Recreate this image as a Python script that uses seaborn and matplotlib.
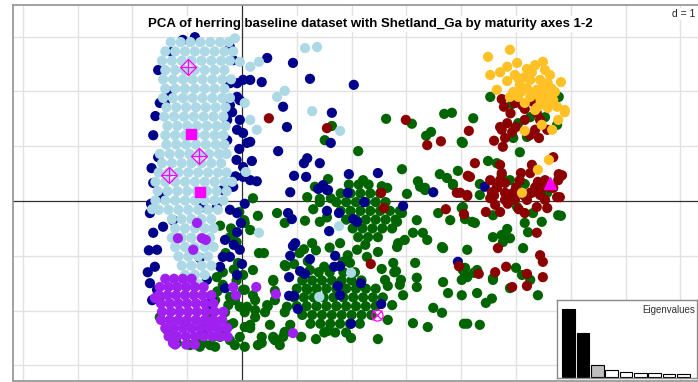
import matplotlib
matplotlib.use("Agg")
import matplotlib.pyplot as plt
import pandas as pd
import seaborn as sns

# ---------------- data (PCA scores, axes 1-2, grid d = 1) ----------------
# green class: scattered individuals
green_x = [2.63,3.10,3.69,3.83,3.36,3.45,4.01,1.64,1.51,2.12,2.92,3.94,3.61,3.21,3.74,3.34,3.01,3.85,1.57,2.21,2.55,2.65,1.33,1.19,1.42,0.20,
           0.29,0.04,0.15,0.78,1.15,1.28,1.13,1.42,1.42,1.79,2.10,1.97,0.31,0.40,0.20,0.57,0.80,0.60,0.05,0.20,0.47,0.09,0.24,0.05,0.57,2.28,2.48,2.55,2.76,2.81,2.88,2.66,2.94,2.74,2.66,3.12,3.39,2.61,2.90,3.19,3.16,3.19,3.49,3.65,3.67,3.76,4.01,4.05,3.65,3.19,2.92,2.83,3.12,3.30,3.38,2.85,2.97,2.83,3.58,3.80,3.25,3.34,3.85,4.03,4.11,4.03,4.01,1.24,1.19,1.84,1.93,2.06,
           2.78,4.29,4.45,4.11,4.34,2.48,1.99,0.60,0.78,1.08,1.35,1.57,4.07,4.23,4.58,
           4.34,4.01,4.07,4.20,4.25,4.58,5.02,5.16,5.22,5.47,5.77,5.31,4.84,4.58,4.74,4.89,4.76,5.13,3.67,4.07,4.11,4.29,4.58,5.00,5.11,5.26,4.89,5.40,4.56,
           4.53,4.22,4.03,4.93,5.78,5.26,5.53,5.04,5.75,4.95,5.20,5.07,4.49,4.65,4.74,4.89,5.16,4.34,5.80,5.57,5.82,
           0.05,-0.22,-0.07,0.02,0.02,0.78,0.57,0.24,0.46,0.82,0.15,0.05,0.36,0.57,0.78,-0.35,-0.22,-0.53,-0.71,-0.22,-0.04,-0.16,-0.35,-0.46,-1.50,-1.37,-1.19,-0.77,-0.49,-1.50,0.64,
           -0.49,-0.13,0.24,0.60,-0.58,-0.31,0.05,0.42,0.78,-1.04,-0.68,-0.22,0.15,0.51,0.88,-1.22,-0.77,-0.40,-0.04,0.36,0.75,-0.95,-0.58,-0.13,0.29,0.69,
           -0.40,-0.20,-0.10,-0.30,-0.15,-0.35,-0.10,-0.45,-0.25,-0.05,1.05,1.35,1.50,1.20,0.95,1.60,1.30,1.55,1.62]
green_y = [1.50,1.41,1.59,1.61,1.19,1.26,1.08,1.37,1.11,0.91,0.58,0.55,0.49,0.36,0.42,0.24,0.13,0.31,0.40,0.38,0.27,0.24,0.26,0.07,0.04,0.05,
           -0.27,-0.35,-0.53,-0.40,-0.36,-0.77,-0.88,-0.38,-0.02,-0.77,-0.89,-1.13,-0.95,-0.95,-1.26,-1.46,-1.19,-1.64,-1.62,-1.72,-1.92,-1.93,-2.12,-2.30,-2.48,-1.02,-0.93,-1.24,-1.13,-1.28,-1.53,-1.55,-1.72,-1.90,-2.17,-2.23,-2.30,-1.44,-1.44,-1.57,-1.13,-1.40,-1.95,-2.04,-1.48,-1.68,-1.72,-2.24,-0.84,-0.35,-0.22,-0.38,-0.58,-0.58,-0.71,-0.77,-0.71,-0.84,-0.22,-0.35,0.26,0.20,0.29,-0.11,-0.89,-1.26,-1.44,-1.26,-1.62,-1.11,-0.99,-1.30,
           -1.30,-1.68,-1.86,-2.24,-2.26,-2.52,-2.50,-2.54,-2.39,-2.48,-2.52,-2.37,-1.35,-1.31,-1.41,
           0.11,-0.13,-0.33,-0.38,-0.40,-0.26,-0.11,-0.40,-0.57,-0.38,-0.26,-0.22,-0.51,-0.66,-0.62,-0.68,-0.75,-0.86,-0.86,-1.22,-1.39,-1.26,-1.44,-1.22,-1.35,-1.44,-1.59,-1.72,-1.78,
           1.90,1.51,1.06,1.77,1.90,1.53,1.53,1.42,1.39,1.15,1.17,0.89,0.73,0.69,0.47,0.38,0.31,0.31,0.44,0.15,-0.27,
           -0.40,-0.66,-1.13,-1.35,-1.62,-1.17,-1.44,-1.99,-1.90,-1.93,-2.32,-2.66,-2.59,-2.50,-2.41,-2.39,-2.54,-2.48,-2.59,-1.75,-1.93,-2.23,-1.53,-1.39,-2.12,-2.35,-2.59,-2.66,-2.66,-1.75,-0.22,
           -1.81,-1.81,-1.81,-1.81,-2.03,-2.03,-2.03,-2.03,-2.03,-2.26,-2.26,-2.26,-2.26,-2.26,-2.26,-2.48,-2.48,-2.48,-2.48,-2.48,-2.48,-2.63,-2.63,-2.63,-2.63,-2.63,
           -0.45,-0.50,-0.75,-0.95,-1.25,-1.30,-1.45,-1.65,-1.90,-0.20,-0.95,-0.90,-1.20,-1.10,-1.15,-0.85,-0.15,-0.30,0.05]
# green class: the two dense groups, row by row (PC2, [PC1 ...])
green_rows = [
    (0.30, [1.95, 2.13, 2.31]),
    (0.14, [1.80, 1.98, 2.16, 2.34, 2.52]),
    (-0.02, [1.72, 1.90, 2.08, 2.26, 2.44, 2.62]),
    (-0.18, [1.80, 1.98, 2.16, 2.34, 2.52, 2.70, 2.88]),
    (-0.34, [1.90, 2.08, 2.26, 2.44, 2.62, 2.80]),
    (-0.50, [2.02, 2.20, 2.38, 2.56, 2.74]),
    (-0.66, [2.12, 2.30, 2.48]),
    (-0.80, [2.25]),
    (-1.30, [1.40, 1.60, 1.85]),
    (-1.45, [1.10, 1.28, 1.46, 1.64, 1.82, 2.00, 2.18]),
    (-1.60, [1.00, 1.18, 1.36, 1.54, 1.72, 1.90, 2.08, 2.26, 2.44]),
    (-1.76, [0.95, 1.13, 1.31, 1.49, 1.67, 1.85, 2.03, 2.21, 2.39, 2.57]),
    (-1.92, [1.00, 1.18, 1.36, 1.54, 1.72, 1.90, 2.08, 2.26, 2.44]),
    (-2.08, [1.10, 1.28, 1.46, 1.64, 1.82, 2.00, 2.18, 2.36]),
    (-2.24, [1.25, 1.43, 1.61, 1.79, 1.97, 2.15]),
    (-2.40, [1.50, 1.70, 1.90]),
]

navy_x = [-0.86,-1.08,-1.28,-1.53,-1.31,-1.41,-1.50,-0.22,-0.16,0.02,-0.22,-0.04,-0.18,-0.27,-0.09,-0.22,-1.53,-1.62,-1.46,-1.68,-0.09,-0.04,0.09,0.15,0.02,-0.27,-0.09,0.15,-0.35,-0.16,-0.46,
          -1.62,-1.55,-1.59,-1.68,-1.64,-1.55,-1.44,-1.26,-0.71,-0.22,-0.09,-0.31,-0.22,-0.40,-0.55,-0.64,-0.31,-0.09,-0.04,-0.09,-0.35,-0.77,-0.68,-0.58,
          -1.58,-1.62,-1.65,-1.66,-1.70,-1.72,-0.05,-0.10,-0.12,0.05,-0.02,-0.15,0.00,
          0.46,0.93,1.24,2.04,0.36,0.75,0.82,1.64,1.62,0.15,0.02,0.66,0.18,1.19,1.13,1.42,0.95,1.17,0.27,0.02,1.95,2.48,0.88,1.48,1.55,1.93,3.49,
          1.39,1.57,2.23,2.94,1.55,1.77,0.84,0.91,2.03,2.10,1.59,0.97,0.93,0.88,1.24,1.70,1.68,1.79,1.06,1.15,0.86,2.17,1.75,1.79,0.86,0.95,1.02,2.54,1.99,3.94,4.43]
navy_y = [2.99,2.94,2.72,2.39,1.99,1.79,1.79,2.81,2.57,2.21,2.15,1.84,1.62,1.48,1.30,1.75,0.80,0.33,0.07,-0.22,1.90,1.48,1.06,0.38,0.62,1.11,2.15,2.21,0.20,0.26,-0.11,
          -0.58,-0.89,-1.20,-1.50,-1.81,-1.62,-0.47,-0.35,-0.11,-0.16,-0.22,-0.71,-1.02,-1.20,-1.81,-1.44,-1.59,-1.35,-0.89,-0.57,-1.02,-1.04,-2.35,-1.99,
          1.55,1.20,0.60,-0.05,-0.90,-1.30,0.95,0.75,0.45,-0.05,-0.40,-0.80,-1.15,
          2.61,2.52,2.23,2.12,2.17,1.72,1.35,1.61,1.06,1.08,1.24,0.91,0.73,0.78,0.69,0.69,0.46,0.44,0.36,0.44,0.49,0.51,0.16,0.29,0.20,0.15,0.16,
          0.22,0.20,-0.02,-0.09,-0.18,-0.22,-0.22,-0.33,-0.33,-0.38,-0.55,-0.77,-0.82,-1.00,-1.06,-1.00,-1.20,-1.19,-1.28,-1.33,-1.39,-1.50,-1.55,-1.72,-1.73,-1.73,-1.97,-1.88,-2.24,-1.11,0.26]

# light blue class: scattered individuals + dense column row by row
lblue_x = [-0.13,-0.04,0.15,0.31,1.15,1.37,0.78,0.64,1.28,0.05,0.15,0.27,1.79,0.07,0.31,1.77,1.99,1.41,-1.64]
lblue_y = [2.97,2.54,2.45,2.54,2.79,2.81,2.01,1.90,1.64,1.79,1.48,1.30,1.28,0.53,-0.58,-0.46,-1.31,-1.75,-0.15]
lblue_rows = [
    (2.90, [-1.30, -1.12, -0.94, -0.76, -0.58, -0.40, -0.24]),
    (2.73, [-1.40, -1.22, -1.04, -0.86, -0.68, -0.50, -0.32, -0.16]),
    (2.56, [-1.46, -1.28, -1.10, -0.92, -0.74, -0.56, -0.38, -0.22]),
    (2.39, [-1.40, -1.22, -1.04, -0.86, -0.68, -0.50, -0.32]),
    (2.22, [-1.44, -1.26, -1.08, -0.90, -0.72, -0.54, -0.36, -0.20]),
    (2.05, [-1.40, -1.22, -1.04, -0.86, -0.68, -0.50, -0.32]),
    (1.88, [-1.44, -1.26, -1.08, -0.90, -0.72, -0.54, -0.36, -0.22]),
    (1.71, [-1.38, -1.20, -1.02, -0.84, -0.66, -0.48, -0.30]),
    (1.54, [-1.42, -1.24, -1.06, -0.88, -0.70, -0.52, -0.34]),
    (1.37, [-1.36, -1.18, -1.00, -0.82, -0.64, -0.46, -0.30]),
    (1.20, [-1.40, -1.22, -1.04, -0.86, -0.68, -0.50, -0.34]),
    (1.03, [-1.38, -1.20, -1.02, -0.84, -0.66, -0.48, -0.32]),
    (0.86, [-1.50, -1.32, -1.14, -0.96, -0.78, -0.60, -0.42, -0.28]),
    (0.69, [-1.46, -1.28, -1.10, -0.92, -0.74, -0.56, -0.38]),
    (0.52, [-1.52, -1.34, -1.16, -0.98, -0.80, -0.62, -0.44, -0.28]),
    (0.35, [-1.58, -1.40, -1.22, -1.04, -0.86, -0.68, -0.50, -0.32, -0.18]),
    (0.18, [-1.54, -1.36, -1.18, -1.00, -0.82, -0.64, -0.46, -0.28]),
    (0.01, [-1.58, -1.40, -1.22, -1.04, -0.86, -0.68, -0.50, -0.34]),
    (-0.16, [-1.52, -1.34, -1.16, -0.98, -0.80, -0.62, -0.44]),
    (-0.33, [-1.28, -1.10, -0.92, -0.74, -0.56]),
    (-0.50, [-1.22, -1.04, -0.86, -0.68, -0.52]),
    (-0.67, [-1.28, -1.10, -0.92, -0.74, -0.58]),
    (-0.84, [-1.22, -1.04, -0.86, -0.68, -0.52]),
    (-1.01, [-1.16, -0.98, -0.80, -0.62]),
    (-1.18, [-1.10, -0.92, -0.74, -0.56]),
    (-1.35, [-1.04, -0.86, -0.68]),
    (-1.52, [-0.96, -0.78]),
]

dred_x = [4.74,4.78,4.98,5.11,5.16,5.31,5.38,5.44,4.71,4.84,4.74,4.93,4.80,5.16,5.35,5.42,5.57,4.14,4.76,4.25,4.16,4.71,4.74,5.09,5.26,5.29,5.40,5.68,5.78,5.77,4.65,4.80,4.95,5.29,5.44,5.68,4.11,3.98,4.56,
          3.72,4.05,3.92,4.11,4.53,4.65,4.80,4.62,4.71,4.45,4.93,5.20,5.16,5.26,5.44,5.38,5.57,5.75,5.47,5.38,4.67,5.44,5.49,3.96,4.32,4.62,4.82,5.20,5.49,5.20,4.93,
          0.49,1.55,2.99,3.38,3.63,2.54,4.12,2.59,2.35,5.84,5.80,
          4.53,4.71,5.07,5.53,4.80,4.98,5.53,4.60,5.00,5.15,5.35,5.60,4.85,5.05,4.90,5.00,5.25,4.60]
dred_y = [1.86,1.72,1.79,1.75,1.68,1.81,1.61,1.48,1.35,1.42,1.30,1.26,1.15,1.48,1.30,1.15,1.30,1.28,0.99,0.69,0.44,0.66,0.51,0.51,0.51,0.66,0.35,0.80,0.49,0.38,0.26,0.15,0.15,0.15,0.15,0.24,0.11,0.15,0.16,
          -0.15,-0.24,0.15,0.09,0.05,0.24,0.33,-0.07,-0.20,-0.20,0.11,0.02,-0.22,0.15,0.11,-0.11,-0.13,0.07,0.29,-0.58,-0.86,-0.99,-1.11,-1.19,-1.33,-1.30,-1.20,-1.33,-1.39,-1.55,-1.57,
          1.51,1.33,1.48,1.02,1.09,0.15,0.46,-0.13,-1.15,0.47,0.07,
          0.38,0.38,0.38,0.38,0.02,0.02,0.02,0.10,0.25,0.10,0.25,0.25,-0.05,-0.15,1.60,1.35,1.20,1.10]

purple_x = [-0.82,-1.17,-0.73,-0.66,-0.89,-0.16,-0.11,0.26,0.62,-1.59,-0.26,-0.27,-0.46,0.93,-1.26]
purple_y = [-0.40,-0.68,-0.68,-0.71,-0.89,-1.57,-1.72,-1.57,-1.70,-1.77,-2.48,-2.32,-2.30,-2.41,-2.59]
purple_rows = [
    (-1.42, [-1.40, -1.24, -1.08, -0.92]),
    (-1.57, [-1.50, -1.34, -1.18, -1.02, -0.86, -0.70]),
    (-1.72, [-1.52, -1.36, -1.20, -1.04, -0.88, -0.72, -0.56]),
    (-1.87, [-1.48, -1.32, -1.16, -1.00, -0.84, -0.68, -0.52]),
    (-2.02, [-1.46, -1.30, -1.14, -0.98, -0.82, -0.66, -0.50, -0.34]),
    (-2.17, [-1.48, -1.32, -1.16, -1.00, -0.84, -0.68, -0.52, -0.36]),
    (-2.32, [-1.40, -1.24, -1.08, -0.92, -0.76, -0.60, -0.44, -0.28]),
    (-2.47, [-1.34, -1.18, -1.02, -0.86, -0.70, -0.54, -0.40]),
    (-2.62, [-1.22, -1.02, -0.86]),
]

gold_x = [4.49,4.89,5.02,5.49,4.71,4.84,4.53,5.20,5.29,5.53,4.84,5.04,5.16,5.44,5.58,5.82,4.65,4.95,5.20,5.38,5.49,5.62,5.71,4.89,5.04,5.26,5.44,5.57,5.68,5.38,5.53,5.58,5.75,5.89,5.77,5.66,5.47,5.35,5.16,5.60,5.40,5.11,5.89,
          5.07,5.26,4.98,5.53,5.16,5.62,5.35,5.30,5.45,5.10,5.65]
gold_y = [2.63,2.76,2.52,2.54,2.35,2.45,2.30,2.41,2.35,2.39,2.19,2.24,2.26,2.21,2.15,2.17,2.03,1.99,2.06,2.03,2.06,1.97,1.99,1.90,1.90,1.90,1.88,1.81,1.84,1.70,1.75,1.70,1.72,1.62,1.48,1.30,1.39,1.66,1.28,0.75,0.57,0.15,1.66,
          2.12,2.21,2.30,1.93,1.79,2.30,2.48,1.95,1.80,2.00,2.05]

# Shetland_Ga individuals (magenta symbols)
shet_square_x = [-0.93, -0.77]
shet_square_y = [1.22, 0.16]
shet_diamond_x = [-0.99, -0.78, -1.33]
shet_diamond_y = [2.45, 0.82, 0.47]
shet_tri_x = [5.62]
shet_tri_y = [0.33]
shet_circ_x = [2.46]
shet_circ_y = [-2.08]

eigenvalues = [6.8, 4.4, 1.2, 0.7, 0.5, 0.45, 0.4, 0.35, 0.3]

title = "PCA of herring baseline dataset with Shetland_Ga by maturity axes 1-2"

# ---------------- assemble ----------------
def expand(rows):
    xs, ys = [], []
    for y, row in rows:
        xs += row
        ys += [y] * len(row)
    return xs, ys

gx, gy = expand(green_rows)
lx, ly = expand(lblue_rows)
px, py = expand(purple_rows)

groups = [
    ("green", green_x + gx, green_y + gy),
    ("navy", navy_x, navy_y),
    ("lightblue", lblue_x + lx, lblue_y + ly),
    ("darkred", dred_x, dred_y),
    ("purple", purple_x + px, purple_y + py),
    ("gold", gold_x, gold_y),
]
df = pd.concat([pd.DataFrame({"PC1": xs, "PC2": ys, "maturity": n}) for n, xs, ys in groups],
               ignore_index=True)
palette = {"green": "#006400", "navy": "#00008B", "lightblue": "#ADD8E6",
           "darkred": "#8B0000", "purple": "#A020F0", "gold": "#FFC125"}

sns.set_theme(style="white")
plt.rcParams['font.family'] = ['Liberation Sans', 'DejaVu Sans']

fig = plt.figure(figsize=(6.98, 3.82), dpi=100)
ax = fig.add_axes([13/698, 1/382, 707/698, 376/382])

sns.scatterplot(data=df, x="PC1", y="PC2", hue="maturity", palette=palette,
                s=54, linewidth=0, legend=False, ax=ax, zorder=3)

mag = "#FF00FF"
ax.plot(shet_square_x, shet_square_y, ls="none", marker="s", ms=7.2, color=mag, mec=mag, zorder=5)
ax.plot(shet_diamond_x, shet_diamond_y, ls="none", marker="D", ms=8.5, mfc="none", mec=mag, mew=0.9, zorder=5)
ax.plot(shet_diamond_x, shet_diamond_y, ls="none", marker="+", ms=11, mec=mag, mew=0.9, zorder=5)
ax.plot(shet_tri_x, shet_tri_y, ls="none", marker="^", ms=9, color=mag, mec=mag, zorder=5)
ax.plot(shet_circ_x, shet_circ_y, ls="none", marker="o", ms=8, mfc="none", mec=mag, mew=0.9, zorder=5)
ax.plot(shet_circ_x, shet_circ_y, ls="none", marker="x", ms=7, mec=mag, mew=0.9, zorder=5)

ax.set_xlim(-4.179, 8.723)
ax.set_ylim(-3.285, 3.577)
for v in range(-4, 9):
    if v != 0:
        ax.axvline(v, color="#e2e2e2", lw=1.0, zorder=0.5)
for h in range(-3, 4):
    if h != 0:
        ax.axhline(h, color="#e2e2e2", lw=1.0, zorder=0.5)
ax.axvline(0, color="#303030", lw=0.9, zorder=1.5)
ax.axhline(0, color="#303030", lw=0.9, zorder=1.5)
ax.set_xticks([])
ax.set_yticks([])
ax.set_xlabel("")
ax.set_ylabel("")
for side in ["left", "top", "bottom"]:
    ax.spines[side].set_color("#9a9a9a")
    ax.spines[side].set_linewidth(1.3)
ax.spines["right"].set_visible(False)

ax.text(370/698, 1 - 24/382, title, transform=fig.transFigure, ha="center", va="center",
        fontsize=9.5, fontweight="bold", color="black", zorder=1,
        bbox=dict(fc="white", ec="none", pad=1.5), clip_on=False)
ax.text(695/698, 1 - 14/382, "d = 1", transform=fig.transFigure, ha="right", va="center",
        fontsize=7.5, color="#222222", zorder=1,
        bbox=dict(fc="white", ec="none", pad=1.0), clip_on=False)

# eigenvalue inset
ins = fig.add_axes([557/698, 4/382, 140/698, 78/382])
eig_df = pd.DataFrame({"axis": [str(i + 1) for i in range(len(eigenvalues))], "eig": eigenvalues})
bar_cols = ["black", "black", "#bebebe"] + ["white"] * (len(eigenvalues) - 3)
sns.barplot(data=eig_df, x="axis", y="eig", hue="axis", palette=bar_cols, legend=False,
            width=0.88, edgecolor="black", linewidth=0.8, ax=ins)
ins.set_xlim(-0.8, 8.94)
ins.set_ylim(-0.1, 7.7)
ins.set_xticks([])
ins.set_yticks([])
ins.set_xlabel("")
ins.set_ylabel("")
ins.set_facecolor("white")
for s in ins.spines.values():
    s.set_visible(True)
    s.set_color("#8a8a8a")
    s.set_linewidth(1.0)
ins.text(0.985, 0.93, "Eigenvalues", transform=ins.transAxes, ha="right", va="top",
         fontsize=7, color="#333333")

fig.savefig("out.png", dpi=100)
